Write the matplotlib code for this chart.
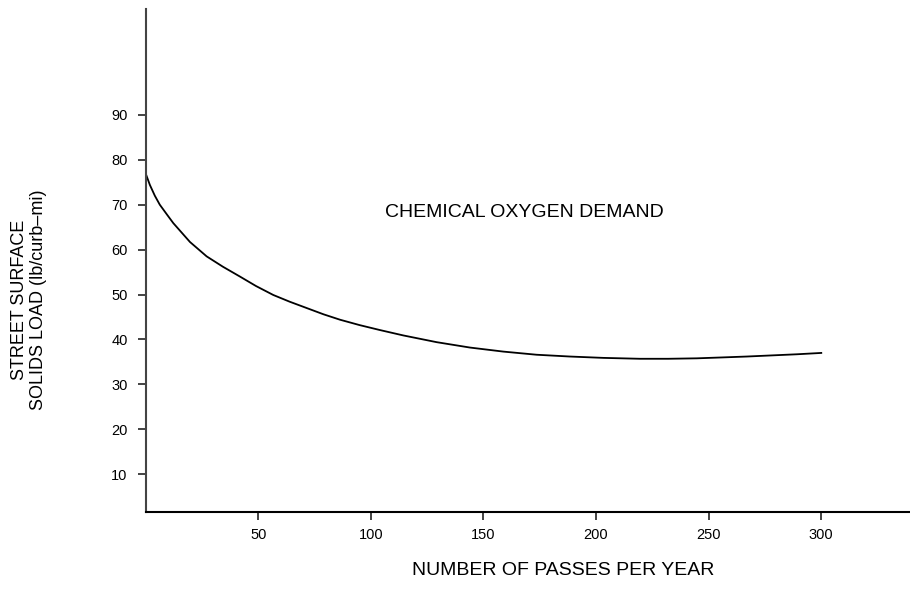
import matplotlib
matplotlib.use('Agg')
import matplotlib.pyplot as plt

plt.rcParams['font.family'] = ['Liberation Sans', 'DejaVu Sans']

# values
passes = [0, 1.9, 4.1, 6.3, 9.5, 12.3, 19.7, 27.1, 34.3, 41.9, 49.0, 56.7, 64.0,
          71.5, 79.0, 86.3, 95.0, 104.0, 114.4, 129.2, 144.0, 158.8, 173.6,
          188.4, 203.2, 219.5, 232.0, 244.7, 256.0, 266.9, 278.0, 289.1, 300.0]
load = [77.0, 74.4, 72.0, 70.0, 67.8, 65.9, 61.7, 58.5, 56.2, 54.0, 51.9, 49.9, 48.4,
        47.0, 45.6, 44.4, 43.2, 42.1, 40.9, 39.4, 38.2, 37.3, 36.6,
        36.2, 35.9, 35.7, 35.7, 35.8, 36.0, 36.2, 36.45, 36.7, 37.0]

x_ticks = [50, 100, 150, 200, 250, 300]
y_ticks = [10, 20, 30, 40, 50, 60, 70, 80, 90]

fig = plt.figure(figsize=(9.1, 5.91), dpi=100)
ax = fig.add_axes([0.160, 0.133, 0.840, 0.852])

ax.plot(passes, load, color='black', linewidth=1.3)

ax.set_xlim(0, 339.4)
ax.set_ylim(1.5, 113.6)
ax.set_xticks(x_ticks)
ax.set_yticks(y_ticks)

for side in ['top', 'right']:
    ax.spines[side].set_visible(False)
ax.spines['left'].set_color('#444444')
ax.spines['left'].set_linewidth(1.5)
ax.spines['bottom'].set_color('black')
ax.spines['bottom'].set_linewidth(1.5)

ax.tick_params(axis='y', direction='out', length=6, width=1.2, color='#222222',
               pad=7, labelsize=10.5)
ax.tick_params(axis='x', direction='out', length=6, width=1.2, color='#222222',
               pad=5, labelsize=10.5)

ax.text(168.4, 68.2, 'CHEMICAL OXYGEN DEMAND', ha='center', va='center', fontsize=14)

fig.text(0.619, 0.034, 'NUMBER OF PASSES PER YEAR', ha='center', va='center', fontsize=14)
fig.text(0.032, 0.492, 'STREET SURFACE\nSOLIDS LOAD (lb/curb\u2013mi)', ha='center', va='center',
         rotation=90, fontsize=13, linespacing=1.2)

fig.savefig('out.png', dpi=100)
